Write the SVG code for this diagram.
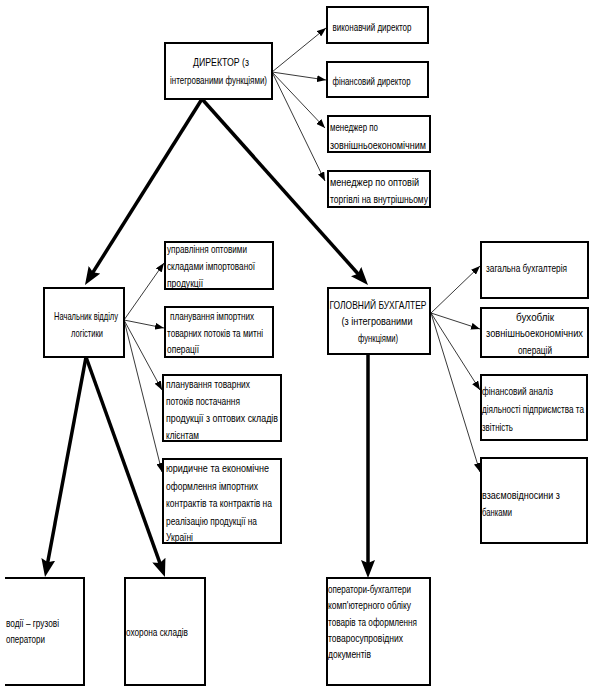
<svg xmlns="http://www.w3.org/2000/svg" width="593" height="690" viewBox="0 0 593 690">
<style>
.box{fill:#fff;stroke:#000;stroke-width:2}
.t{font-family:"Liberation Sans",Arial,sans-serif;font-size:11px;fill:#000}
.m{text-anchor:middle}
.thin{stroke:#222;stroke-width:0.9;fill:none}
.thick{stroke:#000;stroke-width:3.5;fill:none}
</style>
<defs>
<marker id="ah" markerUnits="userSpaceOnUse" markerWidth="9" markerHeight="7" viewBox="0 0 9 7" refX="9" refY="3.5" orient="auto"><path d="M0,0 L9,3.5 L0,7 z" fill="#000"/></marker>
<marker id="AH" markerUnits="userSpaceOnUse" markerWidth="18" markerHeight="14" viewBox="0 0 18 14" refX="12" refY="7" orient="auto"><path d="M0,0 L18,7 L0,14 L3,7 z" fill="#000"/></marker>
</defs>
<rect width="593" height="690" fill="#fff"/>
<g id="connectors">
<line class="thick" x1="202" y1="99" x2="88.2" y2="279.9" marker-end="url(#AH)"/>
<line class="thick" x1="202" y1="99" x2="364" y2="280.5" marker-end="url(#AH)"/>
<line class="thick" x1="86" y1="357" x2="46.1" y2="571.1" marker-end="url(#AH)"/>
<line class="thick" x1="86" y1="357" x2="162.9" y2="571.4" marker-end="url(#AH)"/>
<line class="thick" x1="368" y1="354" x2="368" y2="572" marker-end="url(#AH)"/>
<line class="thin" x1="272" y1="72" x2="326" y2="28" marker-end="url(#ah)"/>
<line class="thin" x1="272" y1="72" x2="326" y2="80" marker-end="url(#ah)"/>
<line class="thin" x1="272" y1="72" x2="325" y2="128" marker-end="url(#ah)"/>
<line class="thin" x1="272" y1="72" x2="325" y2="181" marker-end="url(#ah)"/>
<line class="thin" x1="124" y1="320" x2="164" y2="263" marker-end="url(#ah)"/>
<line class="thin" x1="124" y1="320" x2="164" y2="328" marker-end="url(#ah)"/>
<line class="thin" x1="124" y1="320" x2="162" y2="390" marker-end="url(#ah)"/>
<line class="thin" x1="124" y1="320" x2="162" y2="472" marker-end="url(#ah)"/>
<line class="thin" x1="431" y1="313" x2="480" y2="266" marker-end="url(#ah)"/>
<line class="thin" x1="431" y1="313" x2="480" y2="329" marker-end="url(#ah)"/>
<line class="thin" x1="431" y1="313" x2="480" y2="390" marker-end="url(#ah)"/>
<line class="thin" x1="431" y1="313" x2="480" y2="472" marker-end="url(#ah)"/>
</g>
<g id="director">
<rect class="box" x="165" y="43" width="107" height="56"/>
<text class="t m" x="221" y="66" textLength="56" lengthAdjust="spacingAndGlyphs">ДИРЕКТОР (з</text>
<text class="t m" x="218.5" y="84" textLength="97" lengthAdjust="spacingAndGlyphs">інтегрованими функціями)</text>
</g>
<g id="exec-director">
<rect class="box" x="327" y="7" width="101" height="36"/>
<text class="t" x="332.5" y="31" textLength="79" lengthAdjust="spacingAndGlyphs">виконавчий директор</text>
</g>
<g id="fin-director">
<rect class="box" x="327" y="62" width="101" height="35"/>
<text class="t" x="332.5" y="85" textLength="78" lengthAdjust="spacingAndGlyphs">фінансовий директор</text>
</g>
<g id="manager-fea">
<rect class="box" x="328" y="116" width="102" height="36"/>
<text class="t" x="330" y="131" textLength="48" lengthAdjust="spacingAndGlyphs">менеджер по</text>
<text class="t" x="330" y="149" textLength="96" lengthAdjust="spacingAndGlyphs">зовнішньоекономічним</text>
</g>
<g id="manager-wholesale">
<rect class="box" x="328" y="171" width="102" height="36"/>
<text class="t" x="330" y="186" textLength="89" lengthAdjust="spacingAndGlyphs">менеджер по оптовій</text>
<text class="t" x="330" y="203" textLength="98" lengthAdjust="spacingAndGlyphs">торгівлі на внутрішньому</text>
</g>
<g id="logistics">
<rect class="box" x="44" y="288" width="80" height="69"/>
<text class="t m" x="86" y="320" textLength="64" lengthAdjust="spacingAndGlyphs">Начальник відділу</text>
<text class="t m" x="87" y="337" textLength="32" lengthAdjust="spacingAndGlyphs">логістики</text>
</g>
<g id="warehouses">
<rect class="box" x="165" y="242" width="108" height="47"/>
<text class="t" x="167" y="253" textLength="80" lengthAdjust="spacingAndGlyphs">управління оптовими</text>
<text class="t" x="167" y="270" textLength="88" lengthAdjust="spacingAndGlyphs">складами імпортованої</text>
<text class="t" x="167" y="287" textLength="36" lengthAdjust="spacingAndGlyphs">продукції</text>
</g>
<g id="import-planning">
<rect class="box" x="165" y="307" width="108" height="50"/>
<text class="t" x="170" y="320" textLength="84" lengthAdjust="spacingAndGlyphs">планування імпортних</text>
<text class="t" x="167" y="337" textLength="96" lengthAdjust="spacingAndGlyphs">товарних потоків та митні</text>
<text class="t" x="167" y="353" textLength="32" lengthAdjust="spacingAndGlyphs">операції</text>
</g>
<g id="supply-planning">
<rect class="box" x="163" y="375" width="118" height="66"/>
<text class="t" x="166" y="388" textLength="84" lengthAdjust="spacingAndGlyphs">планування товарних</text>
<text class="t" x="166" y="405" textLength="74" lengthAdjust="spacingAndGlyphs">потоків постачання</text>
<text class="t" x="166" y="422" textLength="112" lengthAdjust="spacingAndGlyphs">продукції з оптових складів</text>
<text class="t" x="166" y="439" textLength="33" lengthAdjust="spacingAndGlyphs">клієнтам</text>
</g>
<g id="contracts">
<rect class="box" x="163" y="459" width="118" height="84"/>
<text class="t" x="166" y="472" textLength="103" lengthAdjust="spacingAndGlyphs">юридичне та економічне</text>
<text class="t" x="166" y="490" textLength="92" lengthAdjust="spacingAndGlyphs">оформлення імпортних</text>
<text class="t" x="166" y="507" textLength="106" lengthAdjust="spacingAndGlyphs">контрактів та контрактів на</text>
<text class="t" x="166" y="525" textLength="91" lengthAdjust="spacingAndGlyphs">реалізацію продукції на</text>
<text class="t" x="166" y="541" textLength="27" lengthAdjust="spacingAndGlyphs">Україні</text>
</g>
<g id="chief-accountant">
<rect class="box" x="328" y="288" width="102" height="66"/>
<text class="t m" x="378" y="309" textLength="97" lengthAdjust="spacingAndGlyphs">ГОЛОВНИЙ БУХГАЛТЕР</text>
<text class="t m" x="377" y="325" textLength="71" lengthAdjust="spacingAndGlyphs">(з інтегрованими</text>
<text class="t m" x="378" y="342" textLength="40" lengthAdjust="spacingAndGlyphs">функціями)</text>
</g>
<g id="general-accounting">
<rect class="box" x="481" y="242" width="107" height="56"/>
<text class="t" x="486" y="272" textLength="81" lengthAdjust="spacingAndGlyphs">загальна бухгалтерія</text>
</g>
<g id="fea-accounting">
<rect class="box" x="481" y="308" width="107" height="49"/>
<text class="t m" x="535" y="321" textLength="38" lengthAdjust="spacingAndGlyphs">бухоблік</text>
<text class="t m" x="534.5" y="337" textLength="97" lengthAdjust="spacingAndGlyphs">зовнішньоекономічних</text>
<text class="t m" x="535" y="354" textLength="34" lengthAdjust="spacingAndGlyphs">операцій</text>
</g>
<g id="fin-analysis">
<rect class="box" x="481" y="375" width="106" height="65"/>
<text class="t" x="482" y="395" textLength="71" lengthAdjust="spacingAndGlyphs">фінансовий аналіз</text>
<text class="t" x="482" y="413" textLength="102" lengthAdjust="spacingAndGlyphs">діяльності підприємства та</text>
<text class="t" x="482" y="431" textLength="31" lengthAdjust="spacingAndGlyphs">звітність</text>
</g>
<g id="banks">
<rect class="box" x="481" y="458" width="106" height="85"/>
<text class="t" x="482" y="499" textLength="78" lengthAdjust="spacingAndGlyphs">взаємовідносини з</text>
<text class="t" x="482" y="516" textLength="30" lengthAdjust="spacingAndGlyphs">банками</text>
</g>
<g id="drivers">
<path d="M5,578 H84 V685 H5" fill="#fff" stroke="#000" stroke-width="2"/>
<text class="t" x="6" y="627" textLength="53" lengthAdjust="spacingAndGlyphs">водії – грузові</text>
<text class="t" x="6" y="643" textLength="39" lengthAdjust="spacingAndGlyphs">оператори</text>
</g>
<g id="security">
<rect class="box" x="125" y="578" width="80" height="107"/>
<text class="t" x="126" y="636" textLength="62" lengthAdjust="spacingAndGlyphs">охорона складів</text>
</g>
<g id="operators">
<rect class="box" x="327" y="578" width="103" height="107"/>
<text class="t" x="328" y="593" textLength="83" lengthAdjust="spacingAndGlyphs">оператори-бухгалтери</text>
<text class="t" x="328" y="609" textLength="83" lengthAdjust="spacingAndGlyphs">комп'ютерного обліку</text>
<text class="t" x="328" y="626" textLength="89" lengthAdjust="spacingAndGlyphs">товарів та оформлення</text>
<text class="t" x="328" y="642" textLength="75" lengthAdjust="spacingAndGlyphs">товаросупровідних</text>
<text class="t" x="328" y="658" textLength="43" lengthAdjust="spacingAndGlyphs">документів</text>
</g>
</svg>
